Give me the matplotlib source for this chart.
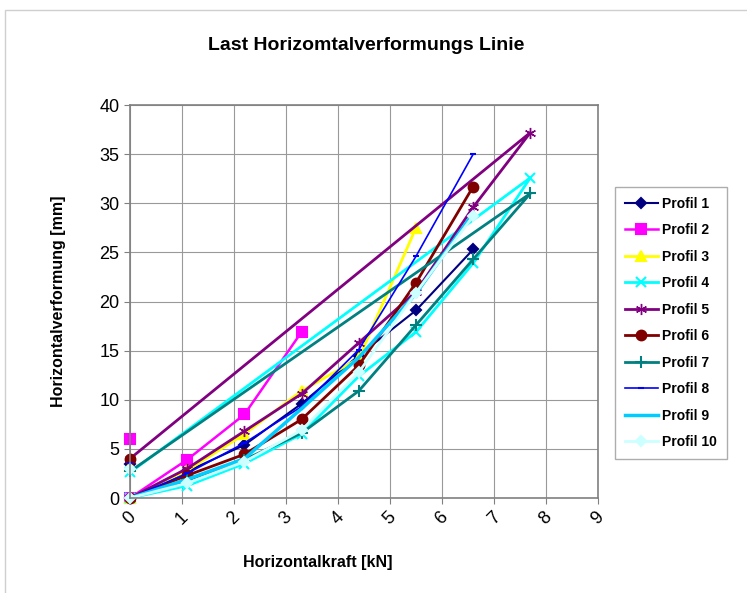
import numpy as np
import matplotlib
matplotlib.use("Agg")
import matplotlib.pyplot as plt
from matplotlib.patches import Rectangle

plt.rcParams['font.family'] = ['Liberation Sans', 'DejaVu Sans']

# Laststufen (Horizontalkraft in kN)
kraft = [0, 1.1, 2.2, 3.3, 4.4, 5.5, 6.6, 7.7]

# Horizontalverformung [mm] je Laststufe
profil_1 = [0, 2.7, 5.4, 9.6, 14.5, 19.1, 25.3]
profil_2 = [0, 3.9, 8.5, 16.9]
profil_3 = [0, 2.8, 6.5, 10.9, 14.2, 27.5]
profil_4 = [0, 1.25, 3.5, 6.5, 12.4, 16.9, 23.9, 32.6]
profil_5 = [0, 3.0, 6.8, 10.6, 15.8, 21.0, 29.6, 37.2]
profil_6 = [0, 2.3, 4.45, 8.0, 13.5, 21.9, 31.7]
profil_7 = [0, 1.8, 3.9, 6.6, 10.9, 17.6, 24.3, 31.0]
profil_8 = [0, 2.5, 5.6, 9.3, 15.1, 24.6, 35.0]
profil_9 = [0, 1.9, 4.0, 9.1, 14.3, 20.8, 29.0]
profil_10 = [0, 1.5, 3.7, 6.9, 12.8, 20.9, 28.7]

# bleibende Verformung nach Entlastung (bei 0 kN)
rest = [3.5, 6.0, 3.3, 2.6, 4.0, 4.0, 2.7, 3.6, 3.1, 3.0]
# Entlastung als Linie verbunden?
entlastung = [False, False, False, True, True, False, True, False, False, False]

namen = ['Profil %d' % i for i in range(1, 11)]
werte = [profil_1, profil_2, profil_3, profil_4, profil_5,
         profil_6, profil_7, profil_8, profil_9, profil_10]

farben = ['#000080', '#FF00FF', '#FFFF00', '#00FFFF', '#800080',
          '#800000', '#008080', '#0000FF', '#00CCFF', '#CCFFFF']
marker = ['D', 's', '^', 'x', (6, 2, 0), 'o', '+', '_', None, 'D']
msize = [5, 7, 7, 7, 8, 7, 8, 5, 0, 5]
mew = [1.5, 1.5, 1.5, 1.5, 1.0, 1.5, 1.5, 1.5, 1.5, 1.5]
lw = [1.5, 1.8, 2, 2, 2, 2, 2, 1.2, 2.5, 2]

fig = plt.figure(figsize=(7.47, 5.93), dpi=100)
fig.patches.append(Rectangle((0.007, -0.1), 1.2, 1.083, transform=fig.transFigure,
                             fill=False, edgecolor='#cfcfcf', lw=1))
ax = fig.add_axes([0.174, 0.1602, 0.6265, 0.6627])

for i in range(10):
    n = len(werte[i])
    if entlastung[i]:
        xs = kraft[:n] + [0]
        ys = werte[i] + [rest[i]]
    else:
        xs = kraft[:n] + [np.nan, 0]
        ys = werte[i] + [np.nan, rest[i]]
    ax.plot(xs, ys, color=farben[i], marker=marker[i], markersize=msize[i],
            markeredgewidth=mew[i], lw=lw[i], label=namen[i], clip_on=False)

ax.set_xlim(0, 9)
ax.set_ylim(0, 40)
ax.set_xticks(range(0, 10))
ax.set_yticks(range(0, 41, 5))
ax.grid(True, color='#999999', lw=0.8)
ax.set_axisbelow(True)
for s in ax.spines.values():
    s.set_color('#808080')
    s.set_linewidth(1.2)
ax.tick_params(axis='both', colors='#808080', labelcolor='black', labelsize=13, length=4)
for lab in ax.get_xticklabels():
    lab.set_rotation(45)

ax.set_xlabel('Horizontalkraft [kN]', fontsize=11.5, fontweight='bold')
ax.xaxis.set_label_coords(0.402, -0.145)
ax.set_ylabel('Horizontalverformung [mm]', fontsize=11.5, fontweight='bold')
ax.yaxis.set_label_coords(-0.136, 0.5)
fig.text(0.49, 0.923, 'Last Horizomtalverformungs Linie', fontsize=14,
         fontweight='bold', ha='center', va='center')

leg = ax.legend(loc='upper left', bbox_to_anchor=(0.823, 0.685), bbox_transform=fig.transFigure,
                frameon=True, fancybox=False, edgecolor='#999999',
                prop={'weight': 'bold', 'size': 10}, labelspacing=0.9, handlelength=2.4,
                handletextpad=0.3, borderpad=0.7, borderaxespad=0)

fig.savefig('out.png', dpi=100)
